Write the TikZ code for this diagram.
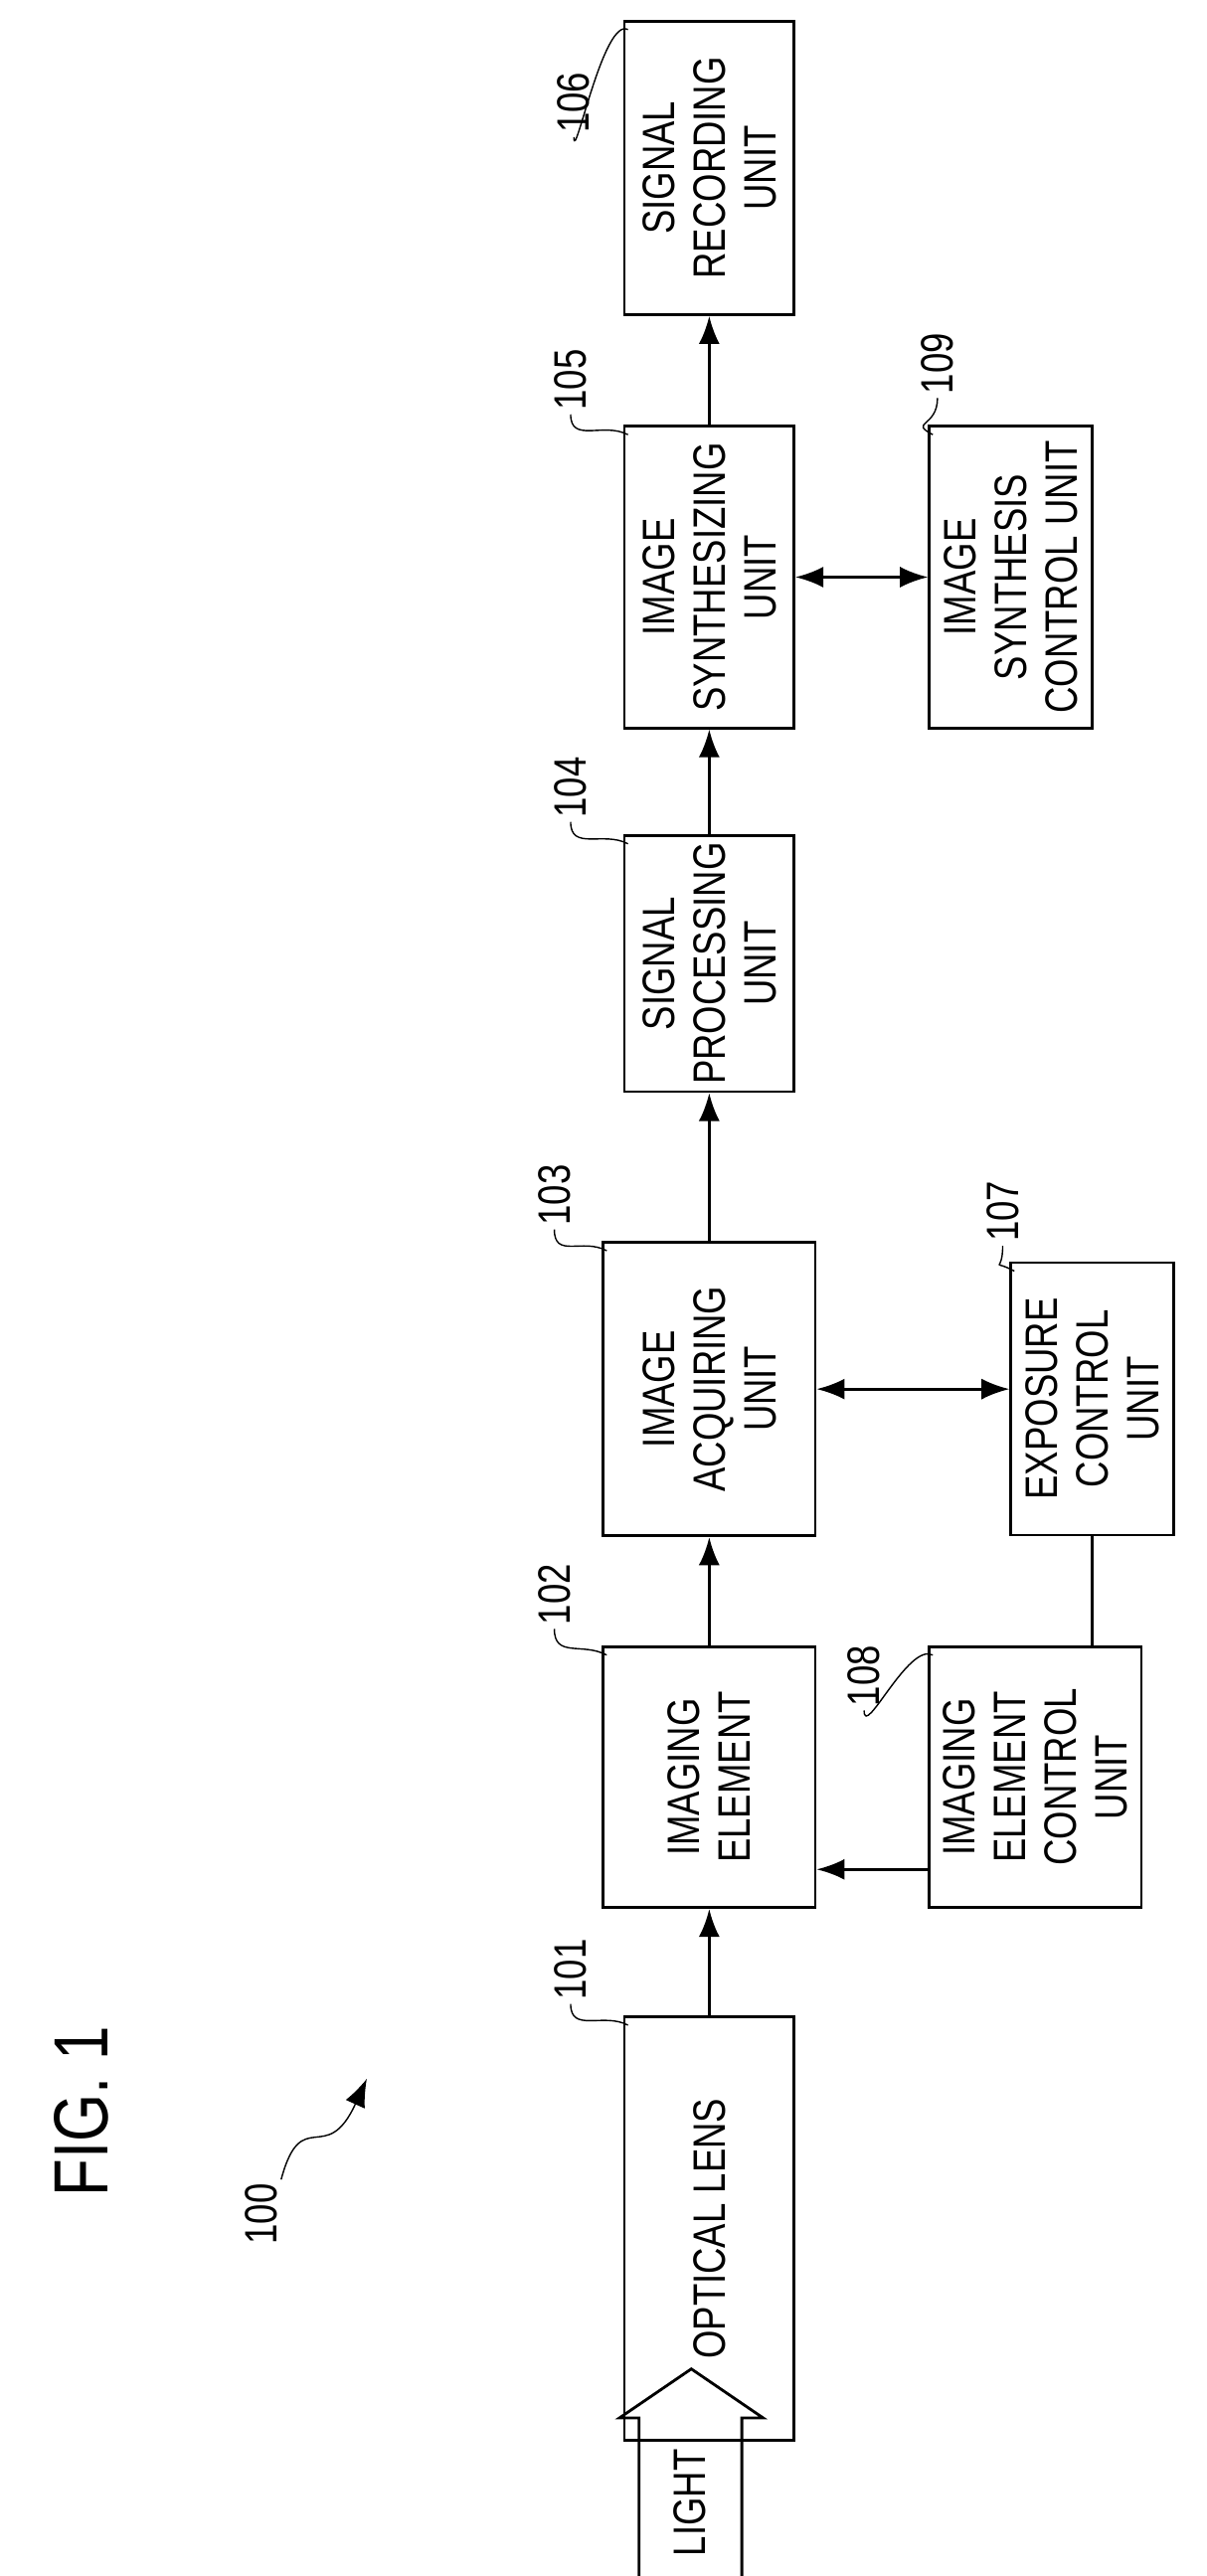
\documentclass[tikz,border=0pt]{standalone}
\usepackage{fontspec}
\setmainfont{Liberation Sans}[FakeStretch=0.8]
\usetikzlibrary{arrows.meta,calc}
\newcommand\pu{0.0164cm}
\tikzset{blk/.append style={draw,thick,rotate=90,align=center,inner sep=2pt,font=\fontsize{13pt}{14.5pt}\selectfont}}
\tikzset{num/.append style={rotate=90,inner sep=1pt,font=\fontsize{13pt}{14pt}\selectfont}}
\tikzset{ar/.append style={thick,-{Latex[length=8pt,width=6pt]}}}
\tikzset{br/.append style={thick,{Latex[length=8pt,width=6pt]}-{Latex[length=8pt,width=6pt]}}}
\tikzset{sq/.append style={thin}}

\begin{document}
\begin{tikzpicture}[x=0.0164cm,y=0.0164cm]
                \useasboundingbox (0,0) rectangle (740,1580);
                % blocks
                \node[blk,minimum width={260*\pu},minimum height={104*\pu}] (n101) at (435,213) {OPTICAL LENS};
                \node[blk,minimum width={160*\pu},minimum height={130*\pu}] (n102) at (435,490) {IMAGING\\ELEMENT};
                \node[blk,minimum width={180*\pu},minimum height={130*\pu}] (n103) at (435,728) {IMAGE\\ACQUIRING\\UNIT};
                \node[blk,minimum width={153*\pu},minimum height={104*\pu}] (n104) at (435,989) {SIGNAL\\PROCESSING\\UNIT};
                \node[blk,minimum width={185*\pu},minimum height={104*\pu}] (n105) at (435,1226) {IMAGE\\SYNTHESIZING\\UNIT};
                \node[blk,minimum width={180*\pu},minimum height={104*\pu}] (n106) at (435,1477) {SIGNAL\\RECORDING\\UNIT};
                \node[blk,minimum width={167*\pu},minimum height={100*\pu}] (n107) at (670,722) {EXPOSURE\\CONTROL\\UNIT};
                \node[blk,minimum width={160*\pu},minimum height={130*\pu}] (n108) at (635,490) {IMAGING\\ELEMENT\\CONTROL\\UNIT};
                \node[blk,minimum width={185*\pu},minimum height={100*\pu}] (n109) at (620,1226) {IMAGE\\SYNTHESIS\\CONTROL UNIT};
                % light
                \draw[thick] (392,0) -- (392,97) -- (380,97) -- (424,127) -- (468,97) -- (455,97) -- (455,0);
                \node[num] (light) at (423,45) {LIGHT};
                % titles
                \node[rotate=90,font=\fontsize{22pt}{24pt}\selectfont] (fig) at (50,285) {FIG. 1};
                \node[num] (l100) at (160,222) {100};
                \coordinate (t100) at (225,305);
                \draw[ar,thin] (l100.south east) .. controls (185,290) and (200,250) .. (t100);
                % connectors
                \draw[ar] (n101.east) -- (n102.west);
                \draw[ar] (n102.east) -- (n103.west);
                \draw[ar] (n103.east) -- (n104.west);
                \draw[ar] (n104.east) -- (n105.west);
                \draw[ar] (n105.east) -- (n106.west);
                \coordinate (c108) at ($(n108.north)!0.7!(n108.north west)$);
                \draw[ar] (c108) -- (c108 -| n102.south);
                \draw[br] (n103.south) -- (n103.south -| n107.north);
                \draw[br] (n105.south) -- (n105.south -| n109.north);
                \draw[thick] (n107.west) -- (n107.west |- n108.east);
                % reference numbers
                \node[num] (l101) at (350,372) {101};
                \node[num] (l102) at (340,602) {102};
                \node[num] (l103) at (340,847) {103};
                \node[num] (l104) at (350,1097) {104};
                \node[num] (l105) at (350,1347) {105};
                \node[num] (l106) at (352,1517) {106};
                \node[num] (l107) at (615,837) {107};
                \node[num] (l108) at (530,552) {108};
                \node[num] (l109) at (575,1357) {109};
                \foreach \l/\b in {l101/n101,l102/n102,l103/n103,l104/n104,l105/n105,l106/n106,l107/n107,l108/n108,l109/n109}
                    \draw[sq] (\l.west) .. controls +(0,-18) and +(-15,8) .. ($(\b.north east)+(3,-6)$);
            \end{tikzpicture}
\end{document}
